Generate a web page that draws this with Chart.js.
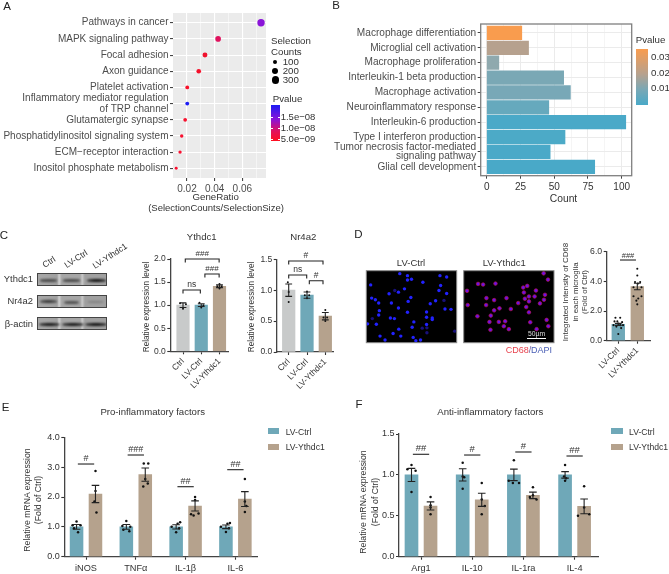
<!DOCTYPE html>
<html><head><meta charset="utf-8">
<script src="https://cdn.jsdelivr.net/npm/chart.js@4"></script>
<style>
html,body{margin:0;padding:0;background:#fff;width:669px;height:574px;overflow:hidden}
#page{position:absolute;left:0;top:0;width:669px;height:574px;font-family:"Liberation Sans",Arial,sans-serif;filter:blur(.3px)}
canvas{position:absolute;left:0;top:0}
.t{position:absolute;white-space:pre;line-height:1;color:#333}
.b{position:absolute}
</style></head><body><div id="page"></div>
<script>
// ---------- Panel A
const pathways=["Pathways in cancer","MAPK signaling pathway","Focal adhesion","Axon guidance","Platelet activation",["Inflammatory mediator regulation","of TRP channel"],"Glutamatergic synapse","Phosphatidylinositol signaling system","ECM\u2212receptor interaction","Inositol phosphate metabolism"];
const geneRatio=[0.0735,0.0425,0.033,0.0285,0.0202,0.0202,0.0187,0.0162,0.015,0.0122];
const selCounts=[300,175,135,117,82,82,76,65,61,49];
const pathColors=["#8a14d8","#e0125e","#f0122e","#f4102a","#f8102a","#1c1cf4","#f6102e","#f81030","#fa1030","#fa1030"];
const ratioTicks=[0.02,0.03,0.04,0.05,0.06,0.07];
// ---------- Panel B
const goTerms=["Macrophage differentiation","Microglial cell activation","Macrophage proliferation","Interleukin-1 beta production","Macrophage activation","Neuroinflammatory response","Interleukin-6 production","Type I interferon production",["Tumor necrosis factor-mediated","signaling pathway"],"Glial cell development"];
const goCounts=[26,31,9,57,62,46,103,58,47,80];
const goColors=["#F99C4E","#B6A18E","#8FA9AE","#7AA8B5","#78A8B7","#66A9BD","#4AA9C8","#4CAAC7","#4AA9C8","#49A9C8"];
const countTicks=[0,12.5,25,37.5,50,62.5,75,87.5,100];
// ---------- Panel C
const groupsC=["Ctrl","LV-Ctrl","LV-Ythdc1"];
const colorsC=["#C8CACA","#6FA8B8","#B5A28D"];
const ythdc1Vals=[1.0,1.0,1.41], ythdc1Errs=[0.05,0.03,0.03];
const ythdc1Dots=[[[-.16,1.04],[.16,1.02],[0,.92]],[[-.1,1.05],[.12,1.0],[0,.95]],[[0,1.46],[-.12,1.41],[.12,1.41],[0,1.36]]];
const nr4a2Vals=[1.0,0.92,0.58], nr4a2Errs=[0.1,0.05,0.06];
const nr4a2Dots=[[[-.05,1.13],[0,.97],[.0,.81]],[[0,.98],[-.12,.92],[.12,.92],[0,.87]],[[0,.68],[-.1,.56],[.1,.56],[0,.5]]];
// ---------- Panel D
const cd68Groups=["LV-Ctrl","LV-Ythdc1"];
const cd68Vals=[1.1,3.65], cd68Errs=[0.07,0.22];
const cd68Dots=[[[-.15,1.55],[.1,1.55],[-.2,1.3],[.2,1.25],[-.05,1.3],[0,1.15],[-.25,1.05],[.25,1.05],[.1,1.05],[-.1,.95],[.15,.85],[0,.45]],
 [[0,4.85],[0,4.4],[-.12,3.95],[.15,3.95],[.03,3.85],[-.2,3.6],[.22,3.6],[-.2,3.0],[.22,3.0],[.05,2.85],[-.05,2.7],[0,2.45]]];
const ctrlCellX=[120,143,143,155,189,240,260,33,242,237,260,116,134,88,105,36,47,57,153,145,95,227,211,252,116,59,57,143,200,255,273,92,104,200,217,217,162,200,24,50,38,157,187,201,117,100,61,76,123,160,168,182,201,284];
const ctrlCellY=[26,32,45,43,52,32,36,60,62,77,86,82,72,87,77,100,105,115,98,110,115,108,117,107,130,138,151,143,142,133,134,160,162,158,160,165,172,180,178,179,162,188,191,190,194,207,215,227,215,219,229,227,205,200];
const ythdcCellX=[549,562,320,353,368,405,488,500,490,526,553,505,522,493,505,550,538,378,401,438,473,322,377,401,417,451,497,505,391,351,387,415,434,430,445,390,509,558,528,563];
const ythdcCellY=[25,44,78,57,59,56,68,63,83,77,90,95,95,102,110,105,116,100,106,100,115,121,121,137,131,133,127,143,153,155,172,172,170,185,194,196,173,166,194,185];
// ---------- Panel E
const proGenes=["iNOS","TNF\u03b1","IL-1\u03b2","IL-6"];
const proCtrl=[1,1,1,1], proCtrlErr=[.08,.08,.07,.06];
const proYth=[2.1,2.75,1.7,1.93], proYthErr=[.29,.22,.17,.25];
const proCtrlDots=[[[0,1.18],[-.08,1.05],[.08,1.05],[-.05,.95],[.03,.82]],[[0,1.2],[-.08,1.03],[.08,1.0],[-.06,.9],[.06,.85]],[[.08,1.15],[.03,1.1],[-.09,1.0],[.06,.95],[0,.82]],[[.08,1.13],[.03,1.1],[-.1,1.0],[.06,.95],[0,.83]]];
const proYthDots=[[[0,2.87],[0,2.2],[-.02,1.85],[.02,1.48]],[[-.03,3.12],[.06,3.12],[0,2.6],[.05,2.45],[-.04,2.35]],[[0,2.0],[0,1.9],[.07,1.45],[-.08,1.42],[-.03,1.38]],[[0,2.6],[0,1.85],[.03,1.7],[0,1.5]]];
// ---------- Panel F
const antiGenes=["Arg1","IL-10","IL-1ra","IL-4"];
const antiCtrl=[1,1,1,1], antiCtrlErr=[.08,.075,.07,.04];
const antiYth=[.62,.695,.75,.615], antiYthErr=[.05,.08,.04,.09];
const antiCtrlDots=[[[0,1.12],[-.08,1.07],[.08,1.05],[0,.79]],[[0,1.15],[.0,.98],[.03,.97],[0,.83]],[[0,1.18],[-.1,.93],[.1,.9],[-.02,.9]],[[0,1.12],[-.02,.98],[.02,.96],[0,.93]]];
const antiYthDots=[[[0,.73],[0,.63],[.0,.6],[0,.52]],[[0,.9],[0,.7],[.06,.62],[0,.52]],[[0,.85],[0,.75],[-.06,.73],[.07,.7]],[[0,.86],[0,.6],[-.12,.5],[.1,.52]]];

// ---------- helpers
const FONT='"Liberation Sans",Arial,sans-serif';
Chart.defaults.font.family=FONT; Chart.defaults.color='#333';
const page=document.getElementById('page');
function T(s,x,y,o={}){const e=document.createElement('div');e.className='t';e.textContent=s;
 e.style.left=x+'px';e.style.top=y+'px';e.style.fontSize=(o.size||9)+'px';if(o.color)e.style.color=o.color;
 const ax=o.align==='left'?'0':o.align==='right'?'-100%':'-50%';
 e.style.transform=`translate(${ax},-50%)`+(o.rot?` rotate(${o.rot}deg)`:'');
 page.appendChild(e);return e;}
function Box(x,y,w,h,css){const e=document.createElement('div');e.className='b';e.style.cssText+=`left:${x}px;top:${y}px;width:${w}px;height:${h}px;${css||''}`;page.appendChild(e);return e;}
function newCanvas(){const c=document.createElement('canvas');c.width=669;c.height=574;c.style.width='669px';c.style.height='574px';page.appendChild(c);return c;}
function pad(b){return {left:0,top:b[1],right:669-b[2],bottom:0};}
const fitW=b=>s=>{s.width=b[0];}, fitH=b=>s=>{s.height=574-b[3];};
const setTicks=v=>s=>{s.ticks=v.map(x=>({value:x}));};
function areaPlugin(fill,stroke,lw){return {id:'area',
 beforeDraw(c){if(fill){const a=c.chartArea;c.ctx.save();c.ctx.fillStyle=fill;c.ctx.fillRect(a.left,a.top,a.width,a.height);c.ctx.restore();}},
 afterDatasetsDraw(c){if(stroke){const a=c.chartArea;c.ctx.save();c.ctx.strokeStyle=stroke;c.ctx.lineWidth=lw||1;c.ctx.strokeRect(a.left,a.top,a.width,a.height);c.ctx.restore();}}};}
function marksPlugin(errs,sigs,capHalf,sigSize){return {id:'marks',afterDatasetsDraw(c){
 const ctx=c.ctx,X=c.scales.x,Y=c.scales.y;ctx.save();ctx.strokeStyle='#222';ctx.lineWidth=1.1;ctx.fillStyle='#333';
 errs.forEach(r=>{const x=X.getPixelForValue(r[0]),a=Y.getPixelForValue(r[1]-r[2]),b=Y.getPixelForValue(r[1]+r[2]);
  ctx.beginPath();ctx.moveTo(x,a);ctx.lineTo(x,b);ctx.moveTo(x-capHalf,a);ctx.lineTo(x+capHalf,a);ctx.moveTo(x-capHalf,b);ctx.lineTo(x+capHalf,b);ctx.stroke();});
 ctx.textAlign='center';ctx.textBaseline='middle';
 sigs.forEach(s=>{const x1=X.getPixelForValue(s.x1),x2=X.getPixelForValue(s.x2),y=Y.getPixelForValue(s.y);
  ctx.beginPath();if(s.foot){ctx.moveTo(x1,y+s.foot);ctx.lineTo(x1,y);ctx.lineTo(x2,y);ctx.lineTo(x2,y+s.foot);}else{ctx.moveTo(x1,y);ctx.lineTo(x2,y);}ctx.stroke();
  ctx.font=(s.size||sigSize)+'px '+FONT;ctx.fillText(s.text,(x1+x2)/2,y-(s.dy||5.5));});
 ctx.restore();}};}
function barPanel(o){
 const labels=o.xLabels, xv=labels.map((_,i)=>i);
 const datasets=[],errs=[];
 o.series.forEach(se=>{
  const pts=se.vals.map((v,i)=>({x:i+se.off,y:v}));
  datasets.push({type:'bar',data:pts,backgroundColor:se.colors,barThickness:o.thick,stack:'s',order:3});
  se.vals.forEach((v,i)=>errs.push([i+se.off,v,se.errs[i]]));
  const dots=[];se.dots.forEach((g,i)=>g.forEach(d=>dots.push({x:i+se.off+d[0],y:d[1]})));
  datasets.push({type:'scatter',data:dots,backgroundColor:'#111',borderWidth:0,pointRadius:o.dotR||1.2,order:1});
 });
 new Chart(newCanvas(),{type:'bar',data:{datasets},plugins:[marksPlugin(errs,o.sigs,o.cap||3.6,o.sigSize||8.5)],
  options:{responsive:false,animation:false,layout:{padding:pad(o.box),autoPadding:false},
   plugins:{legend:{display:false},tooltip:{enabled:false},title:{display:false}},
   scales:{
    x:{type:'linear',offset:false,min:o.xMin,max:o.xMax,afterFit:fitH(o.box),afterBuildTicks:setTicks(xv),
       grid:{offset:false,drawOnChartArea:false,tickLength:3,tickColor:'#333',tickWidth:1.1},border:{color:'#444',width:1.3},
       ticks:{autoSkip:false,padding:o.xPad||2,maxRotation:o.rot||0,minRotation:o.rot||0,color:'#333',font:{size:o.xSize||9},callback:(v,i)=>labels[i]}},
    y:{type:'linear',min:o.yMin,max:o.yMax,afterFit:fitW(o.box),afterBuildTicks:setTicks(o.yTicks),
       grid:{drawOnChartArea:false,tickLength:3,tickColor:'#333',tickWidth:1.1},border:{color:'#444',width:1.3},
       ticks:{autoSkip:false,padding:1.5,color:'#333',font:{size:o.ySize||8.5},callback:v=>v.toFixed(1)}}}}});
}
// ---------- A
T('A',7,7,{size:11.5,color:'#222'});
const boxA=[173,13,266,178];
new Chart(newCanvas(),{type:'scatter',
 data:{datasets:[{data:geneRatio.map((g,i)=>({x:g,y:i})),backgroundColor:pathColors,borderWidth:0,
   pointRadius:selCounts.map(c=>3.7*Math.sqrt(c/300))}]},
 plugins:[areaPlugin('#ebebeb')],
 options:{responsive:false,animation:false,layout:{padding:pad(boxA),autoPadding:false},
  plugins:{legend:{display:false},tooltip:{enabled:false}},
  scales:{
   x:{type:'linear',min:0.0099,max:0.0771,afterFit:fitH(boxA),afterBuildTicks:setTicks(ratioTicks),border:{display:false},
      grid:{color:'#fff',lineWidth:c=>Math.round(c.tick.value*100)%2===0?1.1:.5,tickLength:3,tickColor:c=>Math.round(c.tick.value*100)%2===0?'#444':'rgba(0,0,0,0)'},
      ticks:{autoSkip:false,maxRotation:0,padding:2,color:'#4d4d4d',font:{size:10},callback:v=>Math.round(v*100)%2===0?v.toFixed(2):''}},
   y:{type:'linear',reverse:true,min:-0.6,max:9.6,afterFit:fitW(boxA),afterBuildTicks:setTicks(pathways.map((_,i)=>i)),border:{display:false},
      grid:{color:'#fff',lineWidth:1.1,tickLength:3,tickColor:'#444'},
      ticks:{autoSkip:false,padding:1.5,color:'#4d4d4d',font:{size:10,lineHeight:1.14},callback:(v,i)=>pathways[i]}}}}});
T('GeneRatio',215.7,196.7,{size:9.7});
T('(SelectionCounts/SelectionSize)',216,207.5,{size:9.5});
T('Selection',271,40.7,{size:9.7,align:'left'});T('Counts',271,52,{size:9.7,align:'left'});
[[62.3,2,'100'],[71,3,'200'],[80,3.7,'300']].forEach(a=>{Box(275.3-a[1],a[0]-a[1],a[1]*2,a[1]*2,'background:#000;border-radius:50%');T(a[2],282.7,a[0],{size:9.7,align:'left'});});
T('Pvalue',272.7,99,{size:9.7,align:'left'});
Box(271,105,9,36,'background:linear-gradient(#1c1cf4,#8a14d8 40%,#e0125e 72%,#ff1020)');
[117,128,139.3].forEach(y=>{Box(271,y,2,.6,'background:#fff');Box(278,y,2,.6,'background:#fff');});
T('1.5e\u221208',280.7,116.7,{size:9.5,align:'left'});T('1.0e\u221208',280.7,128,{size:9.5,align:'left'});T('5.0e\u221209',280.7,139.3,{size:9.5,align:'left'});
// ---------- B
T('B',336,5.5,{size:11.5,color:'#222'});
const boxB=[480.7,24,631.7,175.7];
new Chart(newCanvas(),{type:'bar',
 data:{datasets:[{data:goCounts.map((v,i)=>({x:v,y:i})),backgroundColor:goColors,barThickness:13.6}]},
 plugins:[areaPlugin('#fff','#7f7f7f',1.3)],
 options:{indexAxis:'y',responsive:false,animation:false,layout:{padding:pad(boxB),autoPadding:false},
  plugins:{legend:{display:false},tooltip:{enabled:false}},
  scales:{
   x:{type:'linear',min:-4.44,max:107.4,afterFit:fitH(boxB),afterBuildTicks:setTicks(countTicks),border:{display:false},
      grid:{color:'#ebebeb',lineWidth:c=>c.tick.value%25===0?1:.5,tickLength:3,tickColor:c=>c.tick.value%25===0?'#444':'rgba(0,0,0,0)'},
      ticks:{autoSkip:false,maxRotation:0,padding:3,color:'#333',font:{size:10},callback:v=>v%25===0?String(v):''}},
   y:{type:'linear',offset:false,reverse:true,min:-0.6,max:9.6,afterFit:fitW(boxB),afterBuildTicks:setTicks(goTerms.map((_,i)=>i)),border:{display:false},
      grid:{offset:false,color:'#ebebeb',lineWidth:1,tickLength:3,tickColor:'#444'},
      ticks:{autoSkip:false,padding:1.5,color:'#4d4d4d',font:{size:10.1,lineHeight:.93},callback:(v,i)=>goTerms[i]}}}}});
T('Count',563.5,199,{size:10.3});
T('Pvalue',635.7,39.7,{size:9.7,align:'left'});
Box(636,49,12,56,'background:linear-gradient(#F99C4E,#B6A18E 45%,#7AA8B5 72%,#49A9C8)');
[57,72.7,88].forEach((y,i)=>{T(['0.03','0.02','0.01'][i],651,y,{size:9.7,align:'left'});});
// ---------- C blots
T('C',4,236,{size:11.5,color:'#222'});
[['Ythdc1',279],['Nr4a2',301],['\u03b2-actin',324]].forEach(a=>T(a[0],33,a[1],{size:9.4,align:'right'}));
T('Ctrl',49,262,{size:8.6,rot:-33});T('LV-Ctrl',76,258.5,{size:8.6,rot:-33});T('LV-Ythdc1',110,255.5,{size:8.6,rot:-33});
function blot(y,h,bg,bands){const b=Box(37,y,70,h,`background:${bg};border:1px solid #444;box-sizing:border-box;overflow:hidden`);
 bands.forEach(r=>{const d=document.createElement('div');d.style.cssText=`position:absolute;left:${r[0]}px;top:${r[1]}px;width:${r[2]}px;height:${r[3]}px;background:${r[4]};filter:blur(.8px);border-radius:40%`;b.appendChild(d);});}
const laneBg='linear-gradient(90deg,#a8a8a8 0,#a0a0a0 28%,#d0d0d0 31%,#a6a6a6 35%,#a6a6a6 62%,#c8c8c8 65%,#a0a0a0 69%,#a0a0a0 100%)';
blot(273,13,laneBg,[[2,5,17,2.6,'#4a4a4a'],[25,5,17,2.6,'#4a4a4a'],[49,4.5,19,3.4,'#141414']]);
blot(295,13,laneBg,[[2,4,17,3.4,'#3a3a3a'],[26,4.5,15,3,'#505050'],[49,5,17,2.4,'#808080']]);
blot(317,13,laneBg,[[1,4.5,21,3.6,'#1a1a1a'],[24,4.5,22,3.6,'#1a1a1a'],[47,4.5,22,3.6,'#141414']]);
// ---------- C charts
barPanel({box:[170.3,259,228,351.3],xMin:-.696,xMax:2.466,yMin:0,yMax:2,yTicks:[0,.5,1,1.5,2],xLabels:groupsC,rot:45,xSize:8.5,thick:12.5,cap:3.4,dotR:1,
 series:[{off:0,vals:ythdc1Vals,errs:ythdc1Errs,dots:ythdc1Dots,colors:colorsC}],
 sigs:[{x1:0,x2:.95,y:1.328,foot:3.5,text:'ns',size:8.5},{x1:.125,x2:1.98,y:2.0,foot:3.5,text:'###',size:8},{x1:1.2,x2:1.98,y:1.675,foot:3.5,text:'###',size:8}]});
T('Ythdc1',201.7,237,{size:9.6});
T('Relative expression level',146.7,306.7,{size:8.2,rot:-90});
barPanel({box:[276.7,259.3,334,352],xMin:-.656,xMax:2.475,yMin:0,yMax:1.5,yTicks:[0,.5,1,1.5],xLabels:groupsC,rot:45,xSize:8.5,thick:12.6,cap:3.4,dotR:1,
 series:[{off:0,vals:nr4a2Vals,errs:nr4a2Errs,dots:nr4a2Dots,colors:colorsC}],
 sigs:[{x1:0,x2:1.874,y:1.472,foot:3.5,text:'#',size:8.5},{x1:0,x2:.984,y:1.246,foot:3.5,text:'ns',size:8.5},{x1:1.126,x2:1.874,y:1.154,foot:3.5,text:'#',size:8.5}]});
T('Nr4a2',303.3,237,{size:9.6});
T('Relative expression level',252.3,307,{size:8.2,rot:-90});
// ---------- D
T('D',358.5,235,{size:11.5,color:'#222'});
T('LV-Ctrl',411,262.7,{size:9.5});T('LV-Ythdc1',504.3,262.7,{size:9.5});
function cells(box,xs,ys,xMin,xMax,fill,edge,r,dim){
 new Chart(newCanvas(),{type:'scatter',
  data:{datasets:[{data:xs.map((x,i)=>({x,y:ys[i]})),backgroundColor:(dim?xs.map((_,i)=>dim.includes(i)?'#18107a':fill):fill),borderColor:edge,borderWidth:edge?.9:0,pointRadius:r}]},
  plugins:[areaPlugin('#000','#8a8a8a',1)],
  options:{responsive:false,animation:false,layout:{padding:{left:box[0],top:box[1],right:669-box[2],bottom:574-box[3]},autoPadding:false},plugins:{legend:{display:false},tooltip:{enabled:false}},
   scales:{x:{type:'linear',display:false,min:xMin,max:xMax},y:{type:'linear',display:false,reverse:true,min:17,max:235}}}});
}
cells([366.3,270.7,456.7,342.7],ctrlCellX,ctrlCellY,20,290,'#2222ff',null,1.7,[14,23,40,42,43,52,53]);
cells([463.7,270.7,554,342.7],ythdcCellX,ythdcCellY,310,580,'#6a10ee','rgba(170,20,80,.85)',1.8,null);
Box(527.3,337.5,18.4,1,'background:#fff');
T('50\u00b5m',536.5,333.5,{size:6.8,color:'#ddd'});
T('CD68',528.8,350,{size:9,color:'#e8434e',align:'right'});T('/',530,350,{size:9,color:'#7060a0'});T('DAPI',531,350,{size:9,color:'#4a5fb5',align:'left'});
barPanel({box:[606.7,251.7,650,340.7],xMin:-.61,xMax:1.668,yMin:0,yMax:6,yTicks:[0,2,4,6],xLabels:cd68Groups,rot:45,xSize:8.5,ySize:8.7,thick:12.7,cap:3.4,dotR:1.05,
 series:[{off:0,vals:cd68Vals,errs:cd68Errs,dots:cd68Dots,colors:["#6FA8B8","#B5A28D"]}],
 sigs:[{x1:.09,x2:.93,y:5.44,text:'###',size:7.5,dy:3.8}]});
T('Integrated Intensity of CD68',566,292,{size:7.9,rot:-90});T('in each microglia',575.5,292,{size:7.9,rot:-90});T('(Fold of Ctrl)',585,292,{size:7.9,rot:-90});
// ---------- E
T('E',5.5,408,{size:11.5,color:'#222'});
T('Pro-inflammatory factors',152.7,412,{size:9.6});
barPanel({box:[64.3,437.3,257.7,556.7],xMin:-.436,xMax:3.448,yMin:0,yMax:4,yTicks:[0,1,2,3,4],xLabels:proGenes,xSize:9.2,ySize:9,xPad:3,thick:12.9,cap:3.8,dotR:1.25,
 series:[{off:-.19,vals:proCtrl,errs:proCtrlErr,dots:proCtrlDots,colors:'#6FA8B8'},{off:.19,vals:proYth,errs:proYthErr,dots:proYthDots,colors:'#B5A28D'}],
 sigs:[{x1:-.164,x2:.164,y:3.105,text:'#',size:9},{x1:.836,x2:1.164,y:3.407,text:'###',size:9},{x1:1.836,x2:2.164,y:2.345,text:'##',size:9},{x1:2.836,x2:3.164,y:2.915,text:'##',size:9}]});
T('Relative mRNA expression',27.3,500,{size:8.7,rot:-90});T('(Fold of Ctrl)',37.7,500,{size:8.7,rot:-90});
Box(267.7,428.3,11.7,6,'background:#6FA8B8');Box(267.7,444,11.7,6,'background:#B5A28D');
T('LV-Ctrl',285.7,431.7,{size:8.6,align:'left'});T('LV-Ythdc1',285.7,447.3,{size:8.6,align:'left'});
// ---------- F
T('F',359,405,{size:11.5,color:'#222'});
T('Anti-inflammatory factors',490.3,412,{size:9.6});
barPanel({box:[399,434,598,556.7],xMin:-.43,xMax:3.457,yMin:0,yMax:1.5,yTicks:[0,.5,1,1.5],xLabels:antiGenes,xSize:9.2,ySize:9,xPad:3,thick:13,cap:3.8,dotR:1.25,
 series:[{off:-.186,vals:antiCtrl,errs:antiCtrlErr,dots:antiCtrlDots,colors:'#6FA8B8'},{off:.186,vals:antiYth,errs:antiYthErr,dots:antiYthDots,colors:'#B5A28D'}],
 sigs:[{x1:-.159,x2:.159,y:1.252,text:'##',size:9.5},{x1:.841,x2:1.159,y:1.243,text:'#',size:9.5},{x1:1.841,x2:2.159,y:1.28,text:'#',size:9.5},{x1:2.841,x2:3.159,y:1.231,text:'##',size:9.5}]});
T('Relative mRNA expression',363.3,502,{size:8.7,rot:-90});T('(Fold of Ctrl)',375,502,{size:8.7,rot:-90});
Box(611.3,428.3,12,6,'background:#6FA8B8');Box(611.3,444,12,6,'background:#B5A28D');
T('LV-Ctrl',629,431.7,{size:8.6,align:'left'});T('LV-Ythdc1',629,447.3,{size:8.6,align:'left'});
</script></body></html>
